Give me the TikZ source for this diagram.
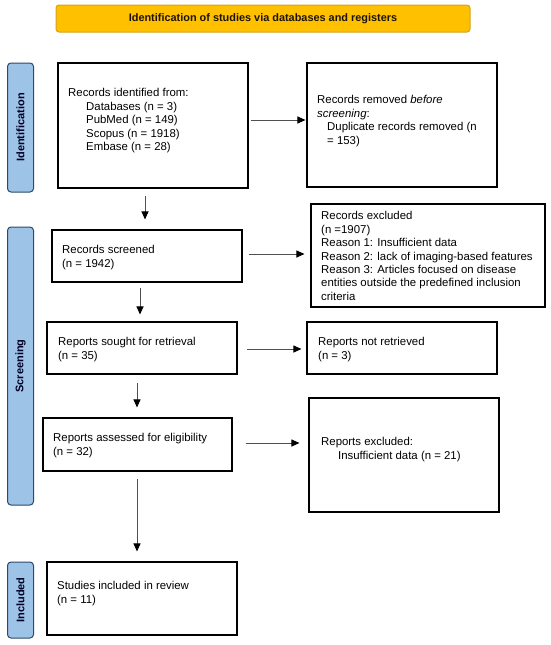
\documentclass[tikz,border=0pt]{standalone}
\usepackage{fontspec}
\setmainfont{Liberation Sans}
\usetikzlibrary{arrows.meta,calc}
\definecolor{bannerfill}{HTML}{FFC000}
\definecolor{bannerline}{HTML}{D4A21A}
\definecolor{sidefill}{HTML}{9DC3E6}
\definecolor{sideline}{HTML}{2B4A6B}
\definecolor{arrline}{HTML}{505050}
\tikzset{
  boxnode/.style={draw=black,line width=1.1pt,fill=white,inner sep=0pt},
  txt/.style={anchor=north west,inner sep=0pt,align=left,font=\fontsize{11.4}{13.4}\selectfont},
  sidelabel/.style={draw=sideline,line width=1pt,fill=sidefill,rounded corners=3.5pt,inner sep=0pt},
  sidetext/.style={rotate=90,font=\fontsize{11}{13}\selectfont\bfseries,text=black!85!blue,inner sep=0pt},
  arr/.style={draw=arrline,line width=1pt,-{Triangle[length=8pt,width=7pt,fill=black,color=black]}},
}
\newcommand{\ind}[1]{\hspace*{#1pt}}
\begin{document}
\begin{tikzpicture}[x=1pt,y=-1pt]
\useasboundingbox (0,0) rectangle (550,645);
% banner
\node[draw=bannerline,line width=1pt,fill=bannerfill,rounded corners=3pt,minimum width=414pt,minimum height=27pt,inner sep=0pt] (banner) at (263,18.5) {};
\node[font=\fontsize{10.9}{13}\selectfont\bfseries,text=black!85!brown,inner sep=0pt] (bannertext) at (263,19) {Identification of studies via databases and registers};
% side labels
\node[sidelabel,minimum width=26pt,minimum height=129pt] (sideId) at (20.5,127.5) {};
\node[sidetext] (sideIdT) at (sideId.center) {Identification};
\node[sidelabel,minimum width=26pt,minimum height=278pt] (sideScr) at (20.5,366) {};
\node[sidetext] (sideScrT) at (sideScr.center) {Screening};
\node[sidelabel,minimum width=26pt,minimum height=76pt] (sideInc) at (20.5,600) {};
\node[sidetext] (sideIncT) at (sideInc.center) {Included};
% boxes
\node[boxnode,minimum width=190pt,minimum height=125pt] (ident) at (153,125.5) {};
\node[boxnode,minimum width=190pt,minimum height=124pt] (removed) at (402,125) {};
\node[boxnode,minimum width=190pt,minimum height=52pt] (screened) at (147,256) {};
\node[boxnode,minimum width=234pt,minimum height=103pt] (excluded) at (428,255.5) {};
\node[boxnode,minimum width=190pt,minimum height=52pt] (sought) at (142,348) {};
\node[boxnode,minimum width=190pt,minimum height=52pt] (notret) at (402,348) {};
\node[boxnode,minimum width=189pt,minimum height=53pt] (assessed) at (137.5,444.5) {};
\node[boxnode,minimum width=190pt,minimum height=114pt] (repexcl) at (404,455) {};
\node[boxnode,minimum width=190pt,minimum height=73pt] (included) at (142,598.5) {};
% texts
\node[txt] (identT) at (68,88.5) {Records identified from:\\\ind{18}Databases (n = 3)\\\ind{18}PubMed (n = 149)\\\ind{18}Scopus (n = 1918)\\\ind{18}Embase (n = 28)};
\node[txt] (removedT) at (317,95.5) {Records removed \textit{before}\\\textit{screening}:\\\ind{10}Duplicate records removed (n\\\ind{10}= 153)};
\node[txt] (screenedT) at (62,245.5) {Records screened\\(n = 1942)};
\node[txt] (excludedT) at (321,211.5) {Records excluded\\(n =1907)\\Reason 1: Insufficient data\\Reason 2: lack of imaging-based features\\Reason 3: Articles focused on disease\\entities outside the predefined inclusion\\criteria};
\node[txt] (soughtT) at (58,337.5) {Reports sought for retrieval\\(n = 35)};
\node[txt] (notretT) at (318,337.5) {Reports not retrieved\\(n = 3)};
\node[txt] (assessedT) at (53,433.5) {Reports assessed for eligibility\\(n = 32)};
\node[txt] (repexclT) at (321,437.5) {Reports excluded:\\\ind{17}Insufficient data (n = 21)};
\node[txt] (includedT) at (57,581.5) {Studies included in review\\(n = 11)};
% arrow guide coordinates
\coordinate (a1) at (250,120);
\coordinate (a2) at (248,254);
\coordinate (a3) at (246,349);
\coordinate (a4) at (245,443);
\coordinate (v1) at (145,0);
\coordinate (v2) at (140,0);
\coordinate (v3) at (137,0);
% connectors
\draw[arr,shorten <=2pt,shorten >=1pt] (ident.east |- a1) -- (removed.west |- a1);
\draw[arr,shorten <=6pt,shorten >=6pt] (screened.east |- a2) -- (excluded.west |- a2);
\draw[arr,shorten <=9pt,shorten >=5pt] (sought.east |- a3) -- (notret.west |- a3);
\draw[arr,shorten <=13pt,shorten >=9pt] (assessed.east |- a4) -- (repexcl.west |- a4);
\draw[arr,shorten <=7pt,shorten >=10pt] (ident.south -| v1) -- (screened.north -| v1);
\draw[arr,shorten <=5pt,shorten >=7pt] (screened.south -| v2) -- (sought.north -| v2);
\draw[arr,shorten <=8pt,shorten >=10pt] (sought.south -| v3) -- (assessed.north -| v3);
\draw[arr,shorten <=7pt,shorten >=10pt] (assessed.south -| v3) -- (included.north -| v3);
\end{tikzpicture}
\end{document}
